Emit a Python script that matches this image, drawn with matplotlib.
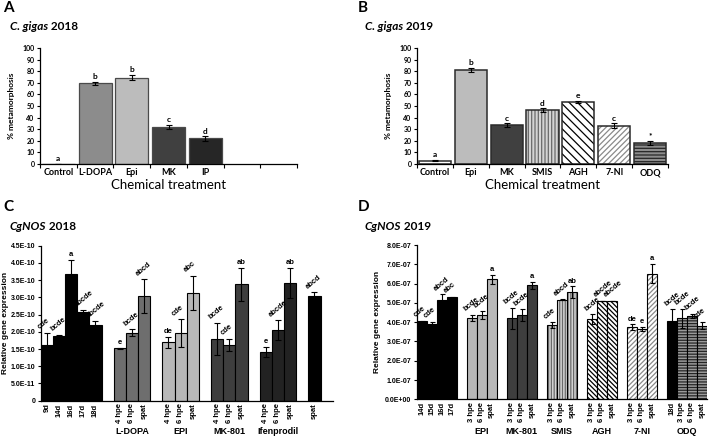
import numpy as np
import matplotlib.pyplot as plt
from matplotlib.transforms import blended_transform_factory

plt.rcParams['font.family'] = ['Liberation Sans', 'DejaVu Sans']
plt.rcParams['hatch.linewidth'] = 0.9

# A: C. gigas 2018, % metamorphosis
a_cats = ["Control", "L-DOPA", "Epi", "MK", "IP"]
a_vals = [0, 69.5, 74.5, 32, 22]
a_err = [0, 1.0, 2.5, 2.0, 1.8]
a_sig = ["a", "b", "b", "c", "d"]

# B: C. gigas 2019, % metamorphosis
b_cats = ["Control", "Epi", "MK", "SMIS", "AGH", "7-NI", "ODQ"]
b_vals = [3, 81, 33.5, 46.5, 53.5, 33, 18]
b_err = [0.5, 2.0, 1.5, 1.5, 1.0, 2.0, 2.0]
b_sig = ["a", "b", "c", "d", "e", "c", "*"]

# C: CgNOS 2018, relative expression (x 1E-10)
c_ticks = ["9d", "14d", "16d", "17d", "18d",
           "4 hpe", "6 hpe", "spat", "4 hpe", "6 hpe", "spat",
           "4 hpe", "6 hpe", "spat", "4 hpe", "6 hpe", "spat", "spat"]
c_vals = [1.62, 1.89, 3.68, 2.57, 2.19,
          1.52, 1.97, 3.03, 1.69, 1.96, 3.12,
          1.80, 1.62, 3.38, 1.42, 2.05, 3.41, 3.05]
c_err = [0.36, 0.02, 0.40, 0.06, 0.12,
         0.02, 0.10, 0.49, 0.15, 0.40, 0.50,
         0.47, 0.18, 0.48, 0.14, 0.29, 0.43, 0.10]
c_sig = ["cde", "bcde", "a", "abcde", "abcde",
         "e", "bcde", "abcd", "de", "cde", "abc",
         "bcde", "cde", "ab", "e", "abcde", "ab", "abcd"]
c_groups = ["", "L-DOPA", "EPI", "MK-801", "Ifenprodil", ""]
c_sizes = [5, 3, 3, 3, 3, 1]

# D: CgNOS 2019, relative expression (x 1E-07)
d_ticks = ["14d", "15d", "16d", "17d",
           "3 hpe", "6 hpe", "spat", "3 hpe", "6 hpe", "spat",
           "3 hpe", "6 hpe", "spat", "3 hpe", "6 hpe", "spat",
           "3 hpe", "6 hpe", "spat", "18d", "3 hpe", "6 hpe", "spat"]
d_vals = [4.05, 3.93, 5.17, 5.28,
          4.22, 4.36, 6.22, 4.20, 4.37, 5.91,
          3.85, 5.16, 5.55, 4.15, 5.10, 5.10,
          3.73, 3.63, 6.52, 4.07, 4.20, 4.32, 3.81]
d_err = [0.03, 0.08, 0.27, 0.04,
         0.16, 0.20, 0.24, 0.54, 0.30, 0.19,
         0.14, 0.02, 0.30, 0.26, 0.02, 0.02,
         0.15, 0.10, 0.50, 0.60, 0.50, 0.12, 0.18]
d_sig = ["cde", "cde", "abcd", "abc",
         "bcde", "bcde", "a", "bcde", "bcde", "a",
         "cde", "abcd", "ab", "bcde", "abcde", "abcde",
         "de", "e", "a", "bcde", "bcde", "bcde", "cde"]
d_groups = ["", "EPI", "MK-801", "SMIS", "AGH", "7-NI", "ODQ"]
d_sizes = [4, 3, 3, 3, 3, 3, 4]

# fill styles: (face, hatch, hatch colour)
BLACK = ("#000000", None, None)
LDOPA = ("#6e6e6e", None, None)
LIGHT = ("#b8b8b8", None, None)
DARK = ("#3e3e3e", None, None)
IFEN = ("#222222", None, None)
WHITE = ("#ffffff", None, None)
SMIS = ("#d4d4d4", "||||||", "#6a6a6a")
AGH = ("#ffffff", "\\" * 7, "#000000")
NI7 = ("#ffffff", "/" * 7, "#8a8a8a")
ODQ = ("#9a9a9a", "-" * 6, "#262626")

a_styles = [WHITE, ("#8c8c8c", None, None), ("#bcbcbc", None, None),
            ("#404040", None, None), ("#262626", None, None)]
b_styles = [WHITE, ("#bcbcbc", None, None), ("#404040", None, None),
            ("#d4d4d4", "|||||", "#6a6a6a"), ("#ffffff", "\\" * 4, "#000000"),
            ("#ffffff", "/" * 6, "#8a8a8a"), ("#8c8c8c", "-----", "#262626")]
c_styles = [BLACK] * 5 + [LDOPA] * 3 + [LIGHT] * 3 + [DARK] * 3 + [IFEN] * 3 + [BLACK]
d_styles = [BLACK] * 4 + [LIGHT] * 3 + [DARK] * 3 + [SMIS] * 3 + [AGH] * 3 + [NI7] * 3 + [BLACK] + [ODQ] * 3


def group_positions(sizes):
    pos, centers, x = [], [], 0
    for n in sizes:
        pos += list(range(x, x + n))
        centers.append(x + (n - 1) / 2)
        x += n + 1
    return np.array(pos, dtype=float), centers


def draw_bars(ax, x, vals, width, styles, edge, lw):
    for xi, v, (face, hatch, hcol) in zip(x, vals, styles):
        if hatch:
            ax.bar(xi, v, width, color=face, edgecolor=hcol, linewidth=0, hatch=hatch)
            ax.bar(xi, v, width, fill=False, edgecolor=edge, linewidth=lw)
        else:
            ax.bar(xi, v, width, color=face, edgecolor=edge, linewidth=lw)


def add_letters(ax, x, vals, err, sig, pad, width, size, family):
    for xi, v, e, s in zip(x, vals, err, sig):
        y = v + e + pad
        if len(s) >= 3:
            ax.text(xi - 0.45 * width, y, s, rotation=40, rotation_mode='anchor',
                    ha='left', va='bottom', fontsize=size, weight='bold', family=family)
        else:
            ax.text(xi, y, s, ha='center', va='bottom', fontsize=size,
                    weight='bold', family=family)


def add_title(fig, x, y, ital, rest, size):
    t = fig.text(x, y, ital, style='italic', weight='bold', fontsize=size,
                 family='Lato', va='center')
    bb = t.get_window_extent(fig.canvas.get_renderer())
    fig.text(bb.x1 / fig.bbox.width, y, rest, weight='bold', fontsize=size,
             family='Lato', va='center')


def style_axes(ax):
    for s in ['top', 'right']:
        ax.spines[s].set_visible(False)
    for s in ['left', 'bottom']:
        ax.spines[s].set_linewidth(0.9)
    ax.tick_params(axis='y', length=2.5, width=0.8, pad=1.5)


fig = plt.figure(figsize=(7.09, 4.37), dpi=100)
W, H = 709, 437


def px_axes(l, r, t, b):
    return fig.add_axes([l / W, 1 - b / H, (r - l) / W, (b - t) / H])


# ---- A and B ----
for box, cats, vals, err, sig, styles, nslots, lw in [
        ((40, 297, 48, 164), a_cats, a_vals, a_err, a_sig, a_styles, 7, 0.9),
        ((417, 668, 48, 164), b_cats, b_vals, b_err, b_sig, b_styles, 7, 1.1)]:
    ax = px_axes(*box)
    x = np.arange(len(cats))
    edge = "#4a4a4a" if lw < 1 else "#2a2a2a"
    draw_bars(ax, x, vals, 0.9, styles, edge, lw)
    ax.errorbar(x, vals, yerr=err, fmt='none', ecolor='black', elinewidth=0.8, capsize=2, capthick=0.8)
    add_letters(ax, x, vals, err, sig, 1.5, 0.9, 6, 'Lato')
    ax.set_xlim(-0.5, nslots - 0.5)
    ax.set_ylim(0, 100)
    ax.set_yticks(np.arange(0, 101, 10))
    ax.set_yticklabels([str(v) for v in range(0, 101, 10)], fontsize=5, weight='bold', family='Lato')
    ax.set_xticks(x)
    ax.set_xticklabels(cats, fontsize=6.5, weight='bold', family='Lato')
    ax.set_xticks(np.arange(-0.5, nslots, 1), minor=True)
    ax.tick_params(axis='x', which='major', length=0, pad=3)
    ax.tick_params(axis='x', which='minor', length=3, width=0.8)
    style_axes(ax)
    ax.set_ylabel("% metamorphosis", fontsize=6, weight='bold', family='Lato')
    ax.yaxis.set_label_coords(-25 / (box[1] - box[0]), 0.5)
    ax.text(0.5, -0.18, "Chemical treatment", transform=ax.transAxes,
            ha='center', va='center', fontsize=9.5, family='Lato')

# ---- C ----
axc = px_axes(40.7, 332.7, 245.7, 400.7)
xc, cc = group_positions(c_sizes)
cv = np.array(c_vals) * 1e-10
ce = np.array(c_err) * 1e-10
draw_bars(axc, xc, cv, 1.0, c_styles, 'black', 0.8)
axc.errorbar(xc, cv, yerr=ce, fmt='none', ecolor='black', elinewidth=0.8, capsize=2, capthick=0.8)
add_letters(axc, xc, cv, ce, c_sig, 0.06e-10, 1.0, 5.5, 'Liberation Sans')
axc.set_xlim(-0.5, xc[-1] + 1.5)
axc.set_ylim(0, 4.5e-10)
yt = np.arange(0, 10) * 0.5e-10
axc.set_yticks(yt)
axc.set_yticklabels(["0"] + ["%.1E" % v for v in yt[1:]], fontsize=5, weight='bold')
axc.set_xticks(xc)
axc.set_xticklabels(c_ticks, rotation=90, fontsize=5.5, weight='bold')
axc.tick_params(axis='x', length=0, pad=2)
style_axes(axc)
axc.set_ylabel("Relative gene expression", fontsize=6, weight='bold')
axc.yaxis.set_label_coords(-32 / 292, 0.5)
trc = blended_transform_factory(axc.transData, axc.transAxes)
for name, cx in zip(c_groups, cc):
    if name:
        axc.text(cx, -0.2, name, transform=trc, ha='center', va='center', fontsize=6.5, weight='bold')

# ---- D ----
axd = px_axes(416.7, 707, 245, 399.3)
xd, dc = group_positions(d_sizes)
dv = np.array(d_vals) * 1e-7
de = np.array(d_err) * 1e-7
draw_bars(axd, xd, dv, 1.0, d_styles, 'black', 0.8)
axd.errorbar(xd, dv, yerr=de, fmt='none', ecolor='black', elinewidth=0.8, capsize=1.8, capthick=0.8)
add_letters(axd, xd, dv, de, d_sig, 0.1e-7, 1.0, 5.5, 'Liberation Sans')
axd.set_xlim(-0.5, xd[-1] + 0.5)
axd.set_ylim(0, 8e-7)
yt = np.arange(0, 9) * 1e-7
axd.set_yticks(yt)
axd.set_yticklabels(["%.1E" % v for v in yt], fontsize=5, weight='bold')
axd.set_xticks(xd)
axd.set_xticklabels(d_ticks, rotation=90, fontsize=5.5, weight='bold')
axd.tick_params(axis='x', length=0, pad=2)
style_axes(axd)
axd.set_ylabel("Relative gene expression", fontsize=6, weight='bold')
axd.yaxis.set_label_coords(-36 / 290, 0.5)
trd = blended_transform_factory(axd.transData, axd.transAxes)
for name, cx in zip(d_groups, dc):
    if name:
        axd.text(cx, -0.21, name, transform=trd, ha='center', va='center', fontsize=6.5, weight='bold')

# ---- panel letters and titles ----
for lab, x, y in [("A", 3, 8), ("B", 358, 8), ("C", 3, 207), ("D", 358, 207)]:
    fig.text(x / W, 1 - y / H, lab, fontsize=11, weight='bold', family='Lato', va='center')
add_title(fig, 10 / W, 1 - 27 / H, "C. gigas", " 2018", 8.5)
add_title(fig, 365 / W, 1 - 27 / H, "C. gigas", " 2019", 8.5)
add_title(fig, 10 / W, 1 - 226 / H, "CgNOS", " 2018", 8.5)
add_title(fig, 365 / W, 1 - 226 / H, "CgNOS", " 2019", 8.5)

fig.savefig("out.png", dpi=100)
